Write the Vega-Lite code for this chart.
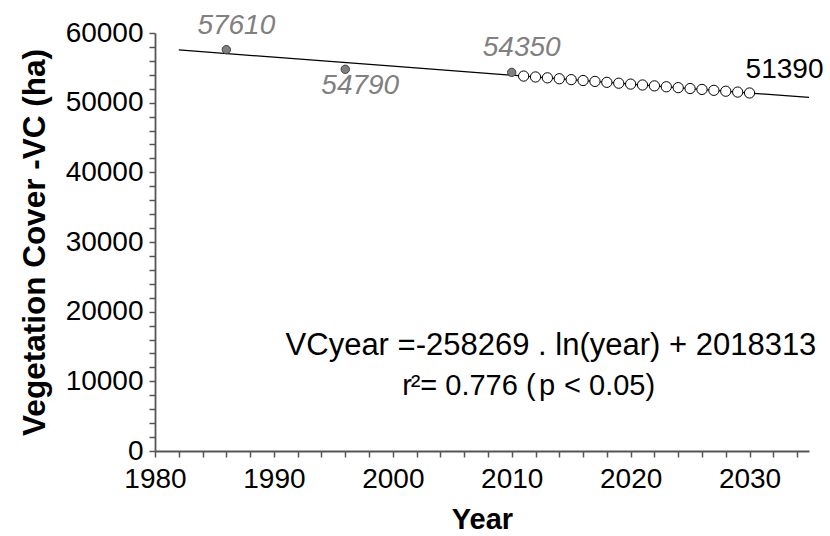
{
  "$schema": "https://vega.github.io/schema/vega-lite/v6.json",
  "width": 654,
  "height": 418,
  "autosize": "none",
  "padding": {"left": 155, "top": 33, "right": 21, "bottom": 85},
  "background": "white",
  "config": {
    "view": {"stroke": null},
    "font": "Liberation Sans",
    "text": {"font": "Liberation Sans"}
  },
  "datasets": {
    "obs": [
      {"year": 1986, "vc": 57610, "label": "57610"},
      {"year": 1996, "vc": 54790, "label": "54790"},
      {"year": 2010, "vc": 54350, "label": "54350"}
    ],
    "pred": [
      {"year": 2011, "vc": 53819}, {"year": 2012, "vc": 53690}, {"year": 2013, "vc": 53562},
      {"year": 2014, "vc": 53434}, {"year": 2015, "vc": 53306}, {"year": 2016, "vc": 53178},
      {"year": 2017, "vc": 53050}, {"year": 2018, "vc": 52921}, {"year": 2019, "vc": 52793},
      {"year": 2020, "vc": 52666}, {"year": 2021, "vc": 52538}, {"year": 2022, "vc": 52410},
      {"year": 2023, "vc": 52282}, {"year": 2024, "vc": 52155}, {"year": 2025, "vc": 52027},
      {"year": 2026, "vc": 51900}, {"year": 2027, "vc": 51772}, {"year": 2028, "vc": 51645},
      {"year": 2029, "vc": 51518}, {"year": 2030, "vc": 51390, "label": "51390"}
    ],
    "trend": [
      {"year": 1982, "vc": 57571}, {"year": 1990, "vc": 56530}, {"year": 2000, "vc": 55236},
      {"year": 2010, "vc": 53947}, {"year": 2020, "vc": 52666}, {"year": 2035, "vc": 50755}
    ],
    "eq": [
      {"year": 2013.3, "vc": 15100, "text": "VCyear =-258269 . ln(year) + 2018313"}
    ],
    "r2": [
      {"year": 2000.8, "vc": 9400, "text": "r", "style": "italic"},
      {"year": 2001.5, "vc": 9400, "text": "²= 0.776 (", "style": "normal"},
      {"year": 2012.3, "vc": 9400, "text": "p", "style": "italic"},
      {"year": 2014.4, "vc": 9400, "text": "< 0.05)", "style": "normal"}
    ]
  },
  "encoding": {
    "x": {
      "field": "year", "type": "quantitative",
      "scale": {"domain": [1980, 2035], "nice": false, "zero": false},
      "axis": {
        "values": [1980,1982,1984,1986,1988,1990,1992,1994,1996,1998,2000,2002,2004,2006,2008,2010,2012,2014,2016,2018,2020,2022,2024,2026,2028,2030,2032,2034],
        "labelExpr": "datum.value % 10 === 0 ? format(datum.value, 'd') : ''",
        "grid": false, "tickSize": 6, "tickWidth": 1.5, "tickColor": "#555555",
        "domainColor": "#555555", "domainWidth": 1.8,
        "labelFontSize": 28, "labelColor": "black", "labelPadding": 8,
        "labelOverlap": false, "labelFlush": false, "labelBound": false,
        "title": "Year", "titleFontSize": 29, "titleFontWeight": "bold", "titleColor": "black",
        "titlePadding": 12
      }
    },
    "y": {
      "field": "vc", "type": "quantitative",
      "scale": {"domain": [0, 60000], "nice": false, "zero": true},
      "axis": {
        "values": [0,2000,4000,6000,8000,10000,12000,14000,16000,18000,20000,22000,24000,26000,28000,30000,32000,34000,36000,38000,40000,42000,44000,46000,48000,50000,52000,54000,56000,58000,60000],
        "labelExpr": "datum.value % 10000 === 0 ? format(datum.value, 'd') : ''",
        "grid": false, "tickSize": 6, "tickWidth": 1.5, "tickColor": "#555555",
        "domainColor": "#555555", "domainWidth": 1.8,
        "labelFontSize": 28, "labelColor": "black", "labelPadding": 6,
        "labelOverlap": false, "labelFlush": false, "labelBound": false,
        "title": "Vegetation Cover -VC (ha)", "titleFontSize": 31.5, "titleFontWeight": "bold", "titleColor": "black",
        "titlePadding": 14
      }
    }
  },
  "layer": [
    {"data": {"name": "trend"}, "mark": {"type": "line", "color": "black", "strokeWidth": 1.3}},
    {"data": {"name": "pred"}, "mark": {"type": "point", "shape": "circle", "filled": true, "fill": "white", "stroke": "black", "strokeWidth": 1, "size": 105, "opacity": 1}},
    {"data": {"name": "obs"}, "mark": {"type": "point", "shape": "circle", "filled": true, "fill": "#7f7f7f", "stroke": "#404040", "strokeWidth": 1, "size": 70, "opacity": 1}},
    {"data": {"name": "obs"}, "transform": [{"filter": "datum.year !== 1996"}],
     "mark": {"type": "text", "fontSize": 28, "fontStyle": "italic", "color": "#808080", "dx": 10, "dy": -24},
     "encoding": {"text": {"field": "label"}}},
    {"data": {"name": "obs"}, "transform": [{"filter": "datum.year === 1996"}],
     "mark": {"type": "text", "fontSize": 28, "fontStyle": "italic", "color": "#808080", "dx": 15, "dy": 17},
     "encoding": {"text": {"field": "label"}}},
    {"data": {"name": "pred"}, "transform": [{"filter": "datum.year === 2030"}],
     "mark": {"type": "text", "fontSize": 28, "color": "black", "dx": 35, "dy": -23},
     "encoding": {"text": {"field": "label"}}},
    {"data": {"name": "eq"},
     "mark": {"type": "text", "fontSize": 31, "color": "black", "align": "center", "baseline": "middle"},
     "encoding": {"text": {"field": "text"}}},
    {"data": {"name": "r2"},
     "mark": {"type": "text", "fontSize": 29, "color": "black", "align": "left", "baseline": "middle"},
     "encoding": {"text": {"field": "text"}, "fontStyle": {"field": "style", "type": "nominal", "scale": null}}}
  ]
}
